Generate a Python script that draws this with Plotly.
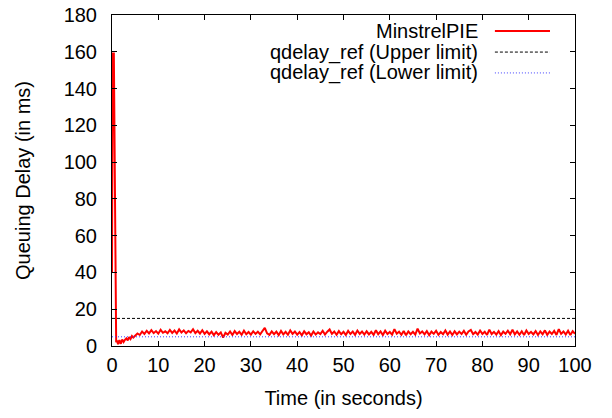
import numpy as np
import plotly.graph_objects as go

# --- data ---
early_time = [0, 0.15, 0.4, 0.9, 1.1, 1.3, 1.6, 1.9, 2.2, 2.5, 2.8, 3.1, 3.4, 3.7, 4.0, 4.3, 4.6]
early_delay = [40, 159, 159, 2.0, 3.0, 1.0, 3.2, 1.2, 3.5, 2.2, 3.4, 4.2, 3.0, 4.8, 3.8, 5.4, 4.6]

steady_delay = [
    5.6, 6.8, 6.0, 7.9, 6.6, 8.3, 6.9, 8.6, 7.0, 8.1, 6.7, 8.8, 7.2, 8.0, 6.9, 8.7, 7.1, 8.4, 6.8, 9.0,
    7.3, 8.5, 6.9, 8.2, 7.4, 9.1, 7.0, 8.3, 6.8, 8.6, 6.6, 8.0, 6.3, 7.8, 5.9, 7.6, 6.1, 7.4, 4.6, 7.2,
    6.2, 7.9, 6.0, 8.1, 6.5, 7.7, 6.1, 8.3, 6.4, 7.6, 6.2, 8.0, 6.6, 7.8, 6.3, 8.2, 9.9, 6.9, 6.1, 7.9,
    6.4, 7.8, 5.9, 8.2, 6.3, 7.7, 6.1, 8.5, 6.6, 7.9, 6.2, 7.6, 5.8, 8.0, 6.4, 7.5, 5.7, 7.9, 6.2, 7.4,
    6.5, 8.3, 6.2, 7.8, 9.0, 6.6, 7.9, 6.1, 8.1, 6.4, 7.7, 6.0, 8.2, 6.5, 7.8, 6.1, 8.4, 6.6, 7.9, 6.2,
    8.0, 6.3, 7.7, 6.1, 8.6, 6.4, 7.9, 6.0, 8.3, 6.5, 7.6, 6.2, 9.2, 6.7, 7.8, 6.1, 8.2, 5.8, 7.9, 6.4,
    7.7, 6.2, 9.4, 6.8, 7.9, 6.3, 8.1, 5.9, 7.8, 6.6, 8.3, 6.1, 7.6, 6.4, 8.4, 6.2, 7.9, 6.0, 8.0, 6.3,
    7.8, 6.5, 8.2, 6.1, 7.9, 8.7, 6.4, 7.6, 6.2, 8.4, 6.6, 7.8, 6.0, 8.9, 6.5, 7.7, 6.2, 8.1, 5.9, 7.8,
    6.6, 8.3, 6.4, 8.8, 6.3, 7.9, 6.1, 8.0, 6.0, 8.4, 6.5, 7.7, 6.3, 8.1, 6.0, 7.9, 6.4, 8.5, 6.1, 7.8,
    6.5, 8.2, 6.0, 9.2, 6.6, 7.9, 6.3, 8.3, 6.0, 8.1, 6.6,
]
steady_time = list(np.arange(5.0, 100.0 + 0.25, 0.5))

qdelay_upper = 15
qdelay_lower = 5

series_names = ["MinstrelPIE", "qdelay_ref (Upper limit)", "qdelay_ref (Lower limit)"]
x_ticks = list(range(0, 101, 10))
y_ticks = list(range(0, 181, 20))

time = early_time + steady_time
delay = early_delay + steady_delay

FONT = "Liberation Sans, Arial, Helvetica, sans-serif"
RED = "#ff0000"
BLUE = "#4040ff"
FS = 20

fig = go.Figure()
fig.add_trace(go.Scatter(x=time, y=delay, mode="lines",
                         line=dict(color=RED, width=2), name=series_names[0], showlegend=False))
fig.add_trace(go.Scatter(x=[0, 100], y=[qdelay_upper, qdelay_upper], mode="lines",
                         line=dict(color="#000000", width=1, dash="3px,2px"), name=series_names[1], showlegend=False))
fig.add_trace(go.Scatter(x=[0, 100], y=[qdelay_lower, qdelay_lower], mode="lines",
                         line=dict(color=BLUE, width=1, dash="1px,2px"), name=series_names[2], showlegend=False))

# manual gnuplot-style legend (text right-aligned, sample on the right)
legend_rows = [0.952, 0.888, 0.825]
legend_styles = [dict(color=RED, width=2), dict(color="#000000", width=1, dash="3px,2px"),
                 dict(color=BLUE, width=1, dash="1px,2px")]
for name, yy, st in zip(series_names, legend_rows, legend_styles):
    fig.add_annotation(x=0.795, y=yy, xref="paper", yref="paper", text=name, showarrow=False,
                       xanchor="right", yanchor="middle", font=dict(size=FS, color="#000000", family=FONT))
    fig.add_shape(type="line", xref="paper", yref="paper", x0=0.827, x1=0.946, y0=yy, y1=yy, line=st)

axis_common = dict(showline=True, mirror="ticks", linecolor="#000000", linewidth=1, automargin=False,
                   ticks="inside", ticklen=5, tickcolor="#000000", showgrid=False, zeroline=False,
                   ticklabeloverflow="allow",
                   tickfont=dict(size=FS, color="#000000", family=FONT))

fig.update_layout(
    width=612, height=418,
    margin=dict(l=112, r=37, t=15, b=72),
    paper_bgcolor="white", plot_bgcolor="white",
    font=dict(family=FONT, size=FS, color="#000000"),
    xaxis=dict(range=[0, 100], tickvals=x_ticks, ticklabelstandoff=1,
               title=dict(text="Time (in seconds)", font=dict(size=FS), standoff=15), **axis_common),
    yaxis=dict(range=[0, 180], tickvals=y_ticks, ticklabelstandoff=10,
               title=dict(text="Queuing Delay (in ms)", font=dict(size=FS), standoff=27), **axis_common),
    showlegend=False,
)

# remove the browser's default 8px body margin so the figure fills the window exactly
fig.write_html("out.html", config={"displayModeBar": False},
               post_script="document.body.style.margin='0px';document.body.style.overflow='hidden';")
